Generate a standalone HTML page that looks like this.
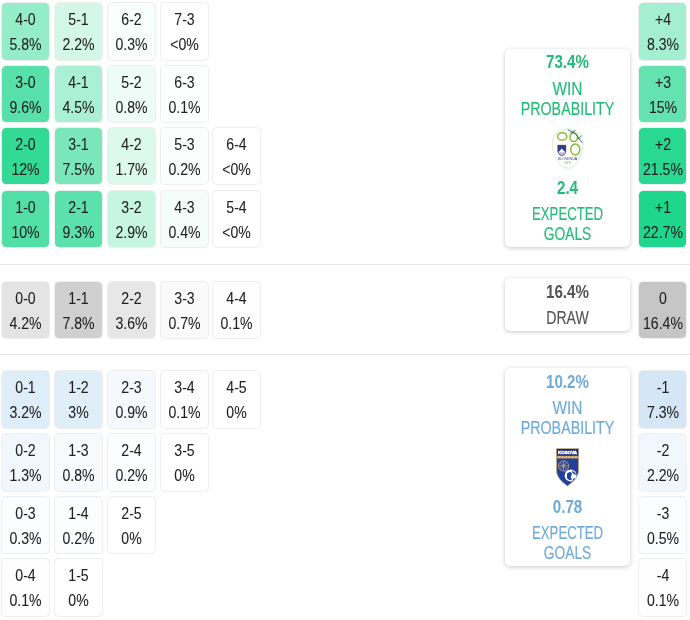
<!DOCTYPE html>
<html lang="en">
<head>
<meta charset="utf-8">
<title>Score matrix</title>
<style>
html,body{margin:0;padding:0;background:#fff;}
body{width:690px;height:620px;position:relative;overflow:hidden;font-family:"Liberation Sans",sans-serif;color:#222;}
.c{position:absolute;width:49px;height:58.8px;box-sizing:border-box;border:1px solid #eeeeee;background-clip:padding-box;border-radius:4.5px;text-align:center;font-size:16px;line-height:24.4px;padding-top:5.2px;}
.c .t{display:block;transform:scaleX(0.88);white-space:nowrap;-webkit-text-stroke:0.08px currentColor;}
.hr{position:absolute;left:0;width:690px;height:1px;background:#e6e6e6;}
.card{position:absolute;left:504.5px;width:125px;box-sizing:border-box;background:#fff;border-radius:5px;box-shadow:0 1px 4px rgba(0,0,0,0.22);text-align:center;}
.card .b{display:block;font-weight:bold;font-size:18px;line-height:20px;transform:scaleX(0.84);white-space:nowrap;}
.card .l{display:block;font-size:18px;line-height:19.7px;white-space:nowrap;-webkit-text-stroke:0.15px currentColor;}
.w1{transform:scaleX(0.857);}
.w2{transform:scaleX(0.793);}
.w3{transform:scaleX(0.73);}
.w4{transform:scaleX(0.767);}
.w5{transform:scaleX(0.78);}
.g{color:#22bb77;}
.d{color:#555;}
.bl{color:#6eaad8;}
.abs{position:absolute;left:0;width:100%;}
svg{position:absolute;display:block;overflow:visible;}
</style>
</head>
<body>
<div class="c" style="left:1px;top:2px;height:59px;background-color:rgba(30,214,140,0.473)"><span class="t">4-0</span><span class="t">5.8%</span></div>
<div class="c" style="left:54px;top:2px;height:59px;background-color:rgba(30,214,140,0.198)"><span class="t">5-1</span><span class="t">2.2%</span></div>
<div class="c" style="left:107px;top:2px;height:59px;background-color:rgba(30,214,140,0.033)"><span class="t">6-2</span><span class="t">0.3%</span></div>
<div class="c" style="left:160px;top:2px;height:59px;background-color:rgba(30,214,140,0.000)"><span class="t">7-3</span><span class="t">&lt;0%</span></div>
<div class="c" style="left:1px;top:65px;height:58px;background-color:rgba(30,214,140,0.744)"><span class="t">3-0</span><span class="t">9.6%</span></div>
<div class="c" style="left:54px;top:65px;height:58px;background-color:rgba(30,214,140,0.376)"><span class="t">4-1</span><span class="t">4.5%</span></div>
<div class="c" style="left:107px;top:65px;height:58px;background-color:rgba(30,214,140,0.079)"><span class="t">5-2</span><span class="t">0.8%</span></div>
<div class="c" style="left:160px;top:65px;height:58px;background-color:rgba(30,214,140,0.012)"><span class="t">6-3</span><span class="t">0.1%</span></div>
<div class="c" style="left:1px;top:127px;height:58px;background-color:rgba(30,214,140,0.910)"><span class="t">2-0</span><span class="t">12%</span></div>
<div class="c" style="left:54px;top:127px;height:58px;background-color:rgba(30,214,140,0.596)"><span class="t">3-1</span><span class="t">7.5%</span></div>
<div class="c" style="left:107px;top:127px;height:58px;background-color:rgba(30,214,140,0.157)"><span class="t">4-2</span><span class="t">1.7%</span></div>
<div class="c" style="left:160px;top:127px;height:58px;background-color:rgba(30,214,140,0.023)"><span class="t">5-3</span><span class="t">0.2%</span></div>
<div class="c" style="left:212px;top:127px;height:58px;background-color:rgba(30,214,140,0.000)"><span class="t">6-4</span><span class="t">&lt;0%</span></div>
<div class="c" style="left:1px;top:190px;height:58px;background-color:rgba(30,214,140,0.772)"><span class="t">1-0</span><span class="t">10%</span></div>
<div class="c" style="left:54px;top:190px;height:58px;background-color:rgba(30,214,140,0.723)"><span class="t">2-1</span><span class="t">9.3%</span></div>
<div class="c" style="left:107px;top:190px;height:58px;background-color:rgba(30,214,140,0.253)"><span class="t">3-2</span><span class="t">2.9%</span></div>
<div class="c" style="left:160px;top:190px;height:58px;background-color:rgba(30,214,140,0.043)"><span class="t">4-3</span><span class="t">0.4%</span></div>
<div class="c" style="left:212px;top:190px;height:58px;background-color:rgba(30,214,140,0.000)"><span class="t">5-4</span><span class="t">&lt;0%</span></div>
<div class="c" style="left:1px;top:281px;height:58px;background-color:rgba(178,178,178,0.354)"><span class="t">0-0</span><span class="t">4.2%</span></div>
<div class="c" style="left:54px;top:281px;height:58px;background-color:rgba(178,178,178,0.617)"><span class="t">1-1</span><span class="t">7.8%</span></div>
<div class="c" style="left:107px;top:281px;height:58px;background-color:rgba(178,178,178,0.308)"><span class="t">2-2</span><span class="t">3.6%</span></div>
<div class="c" style="left:160px;top:281px;height:58px;background-color:rgba(178,178,178,0.070)"><span class="t">3-3</span><span class="t">0.7%</span></div>
<div class="c" style="left:212px;top:281px;height:58px;background-color:rgba(178,178,178,0.012)"><span class="t">4-4</span><span class="t">0.1%</span></div>
<div class="c" style="left:1px;top:370px;height:59px;background-color:rgba(138,189,230,0.277)"><span class="t">0-1</span><span class="t">3.2%</span></div>
<div class="c" style="left:54px;top:370px;height:59px;background-color:rgba(138,189,230,0.261)"><span class="t">1-2</span><span class="t">3%</span></div>
<div class="c" style="left:107px;top:370px;height:59px;background-color:rgba(138,189,230,0.088)"><span class="t">2-3</span><span class="t">0.9%</span></div>
<div class="c" style="left:160px;top:370px;height:59px;background-color:rgba(138,189,230,0.012)"><span class="t">3-4</span><span class="t">0.1%</span></div>
<div class="c" style="left:212px;top:370px;height:59px;background-color:rgba(138,189,230,0.000)"><span class="t">4-5</span><span class="t">0%</span></div>
<div class="c" style="left:1px;top:433px;height:59px;background-color:rgba(138,189,230,0.123)"><span class="t">0-2</span><span class="t">1.3%</span></div>
<div class="c" style="left:54px;top:433px;height:59px;background-color:rgba(138,189,230,0.079)"><span class="t">1-3</span><span class="t">0.8%</span></div>
<div class="c" style="left:107px;top:433px;height:59px;background-color:rgba(138,189,230,0.023)"><span class="t">2-4</span><span class="t">0.2%</span></div>
<div class="c" style="left:160px;top:433px;height:59px;background-color:rgba(138,189,230,0.000)"><span class="t">3-5</span><span class="t">0%</span></div>
<div class="c" style="left:1px;top:496px;height:58px;background-color:rgba(138,189,230,0.033)"><span class="t">0-3</span><span class="t">0.3%</span></div>
<div class="c" style="left:54px;top:496px;height:58px;background-color:rgba(138,189,230,0.023)"><span class="t">1-4</span><span class="t">0.2%</span></div>
<div class="c" style="left:107px;top:496px;height:58px;background-color:rgba(138,189,230,0.000)"><span class="t">2-5</span><span class="t">0%</span></div>
<div class="c" style="left:1px;top:558px;height:59px;background-color:rgba(138,189,230,0.012)"><span class="t">0-4</span><span class="t">0.1%</span></div>
<div class="c" style="left:54px;top:558px;height:59px;background-color:rgba(138,189,230,0.000)"><span class="t">1-5</span><span class="t">0%</span></div>
<div class="c" style="left:638px;top:2px;height:59px;background-color:rgba(30,214,140,0.404);padding-left:1px"><span class="t">+4</span><span class="t">8.3%</span></div>
<div class="c" style="left:638px;top:65px;height:58px;background-color:rgba(30,214,140,0.689);padding-left:1px"><span class="t">+3</span><span class="t">15%</span></div>
<div class="c" style="left:638px;top:127px;height:58px;background-color:rgba(30,214,140,0.952);padding-left:1px"><span class="t">+2</span><span class="t">21.5%</span></div>
<div class="c" style="left:638px;top:190px;height:58px;background-color:rgba(30,214,140,1.000);padding-left:1px"><span class="t">+1</span><span class="t">22.7%</span></div>
<div class="c" style="left:638px;top:281px;height:58px;background-color:rgba(178,178,178,0.746);padding-left:1px"><span class="t">0</span><span class="t">16.4%</span></div>
<div class="c" style="left:638px;top:370px;height:59px;background-color:rgba(138,189,230,0.360);padding-left:1px"><span class="t">-1</span><span class="t">7.3%</span></div>
<div class="c" style="left:638px;top:433px;height:59px;background-color:rgba(138,189,230,0.122);padding-left:1px"><span class="t">-2</span><span class="t">2.2%</span></div>
<div class="c" style="left:638px;top:496px;height:58px;background-color:rgba(138,189,230,0.032);padding-left:1px"><span class="t">-3</span><span class="t">0.5%</span></div>
<div class="c" style="left:638px;top:558px;height:59px;background-color:rgba(138,189,230,0.008);padding-left:1px"><span class="t">-4</span><span class="t">0.1%</span></div>

<div class="hr" style="top:264px"></div>
<div class="hr" style="top:354px"></div>

<div class="card g" style="top:48.8px;height:198px">
  <span class="b abs" style="top:3.7px">73.4%</span>
  <span class="l abs w1" style="top:31px">WIN</span>
  <span class="l abs w2" style="top:51.4px">PROBABILITY</span>
  <span class="b abs" style="top:129px">2.4</span>
  <span class="l abs w3" style="top:156.3px">EXPECTED</span>
  <span class="l abs w4" style="top:176.3px">GOALS</span>
</div>

<div class="card d" style="top:278.2px;height:53px">
  <span class="b abs" style="top:4px">16.4%</span>
  <span class="l abs w5" style="top:30.4px">DRAW</span>
</div>

<div class="card bl" style="top:368px;height:197.5px">
  <span class="b abs" style="top:3.7px">10.2%</span>
  <span class="l abs w1" style="top:31px">WIN</span>
  <span class="l abs w2" style="top:51.4px">PROBABILITY</span>
  <span class="b abs" style="top:129px">0.78</span>
  <span class="l abs w3" style="top:156.3px">EXPECTED</span>
  <span class="l abs w4" style="top:176.3px">GOALS</span>
</div>

<!-- Slovenia crest -->
<svg style="left:547px;top:124px" width="42" height="48" viewBox="0 0 542 620">
  <path d="M268 66 C394 66 468 155 466 260 C461 396 368 572 265 572 C167 572 70 396 67 260 C65 155 146 66 268 66 Z" fill="#fff" stroke="#c4d0b8" stroke-width="7"/>
  <ellipse cx="196" cy="160" rx="59" ry="48" fill="none" stroke="#86bb35" stroke-width="19"/>
  <ellipse cx="345" cy="172" rx="48" ry="55" fill="none" stroke="#86bb35" stroke-width="19"/>
  <ellipse cx="365" cy="329" rx="58" ry="72" fill="none" stroke="#86bb35" stroke-width="19"/>
  <path d="M268 72 C300 100 330 92 360 120 C400 160 420 200 456 245" fill="none" stroke="#1d5a5e" stroke-width="12"/>
  <path d="M300 122 L368 84 M395 196 L447 150" fill="none" stroke="#1d5a5e" stroke-width="10"/>
  <path d="M137 272 L245 272 L245 350 C245 385 215 405 191 412 C167 405 137 385 137 350 Z" fill="#26408f" stroke="#c8343a" stroke-width="5"/>
  <path d="M148 362 L172 338 L191 316 L210 338 L234 362 C226 385 206 398 191 403 C176 398 156 385 148 362 Z" fill="#fff"/>
  <path d="M160 372 L222 372 M168 386 L214 386" stroke="#26408f" stroke-width="5"/>
  <text x="265" y="464" font-family="'Liberation Sans',sans-serif" font-size="37" fill="#27357a" text-anchor="middle" textLength="250" lengthAdjust="spacingAndGlyphs">SLOVENIJA</text>
  <text x="267" y="515" font-family="'Liberation Sans',sans-serif" font-size="38" fill="#86bb35" text-anchor="middle" textLength="86" lengthAdjust="spacingAndGlyphs">NZS</text>
</svg>

<!-- Kosovo crest -->
<svg style="left:550px;top:443px" width="36" height="48" viewBox="0 0 465 620">
  <path d="M85 73 L368 73 L368 360 C368 438 298 506 226 555 C152 506 85 438 85 360 Z" fill="#21409a" stroke="#c9a15f" stroke-width="9"/>
  <rect x="89" y="77" width="275" height="90" fill="#1b2d78"/>
  <rect x="89" y="166" width="275" height="34" fill="#c9a15f"/>
  <g fill="#f1dcae">
    <rect x="108" y="177" width="22" height="12"/><rect x="150" y="177" width="22" height="12"/><rect x="192" y="177" width="22" height="12"/>
    <rect x="234" y="177" width="22" height="12"/><rect x="276" y="177" width="22" height="12"/><rect x="318" y="177" width="22" height="12"/>
  </g>
  <text x="227" y="148" transform="translate(0 148) scale(1 0.84) translate(0 -148)" font-family="'Liberation Sans',sans-serif" font-weight="bold" font-size="60" fill="#fff" stroke="#fff" stroke-width="6" text-anchor="middle" textLength="246" lengthAdjust="spacingAndGlyphs">KOSOVA</text>
  <g fill="none" stroke="#b39a86" stroke-width="12">
    <circle cx="175" cy="296" r="66"/>
    <path d="M175 236 L175 356 M115 296 L235 296 M133 254 L217 338 M217 254 L133 338"/>
  </g>
  <circle cx="175" cy="296" r="14" fill="#c9a15f"/>
  <circle cx="266" cy="420" r="77" fill="#fff"/>
  <path d="M222 392 L262 372 L285 400 L268 440 L285 470 L250 482 L218 452 Z" fill="#21409a"/>
  <path d="M285 362 C312 368 330 388 338 412 L312 405 C305 392 296 384 280 380 Z" fill="#21409a"/>
  <path d="M300 462 L330 452 C322 472 308 486 290 492 Z" fill="#21409a"/>
</svg>
</body>
</html>
